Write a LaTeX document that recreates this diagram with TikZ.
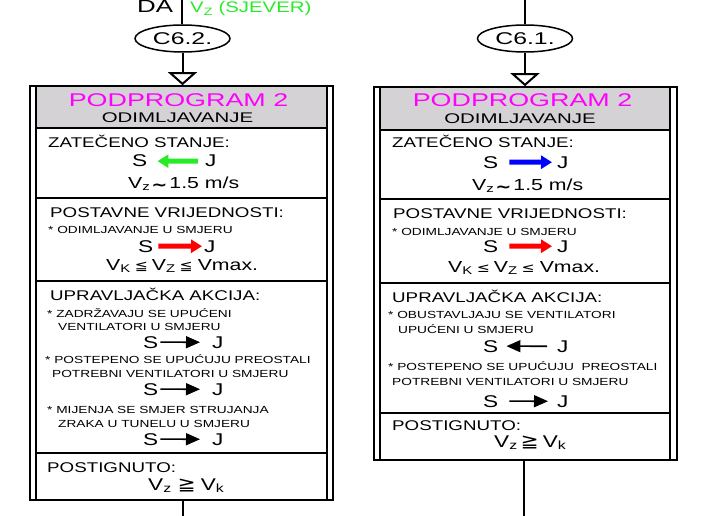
\documentclass[tikz,border=0pt]{standalone}
\usepackage{fontspec}
\setmainfont[FakeStretch=1.33]{Liberation Sans}
\newfontfamily\hdfont[FakeStretch=1.46]{Liberation Sans}
\newfontfamily\symf[FakeStretch=1.2]{DejaVu Sans}
\usetikzlibrary{arrows.meta,shapes.geometric}
\definecolor{mag}{RGB}{255,0,255}
\definecolor{grn}{RGB}{40,235,40}
\definecolor{rd}{RGB}{255,0,0}
\definecolor{bl}{RGB}{0,0,255}
\definecolor{hdg}{RGB}{212,210,212}
\newcommand\sub[1]{\textsubscript{#1}}
\newcommand\tld{\raisebox{-2pt}{\symf\bfseries\fontsize{16}{18}\selectfont ∼}}
\newcommand\rel[1]{{\symf\fontsize{13}{15}\selectfont #1}}
\begin{document}
\begin{tikzpicture}[x=1pt,y=-1pt,
 txt/.style={inner sep=0pt,anchor=base west},
 ttl/.style={txt,font=\fontsize{14.1}{16}\selectfont},
 sml/.style={txt,font=\fontsize{10.3}{12}\selectfont},
 big/.style={txt,font=\fontsize{17}{20}\selectfont},
 valtxt/.style={txt,font=\fontsize{16}{19}\selectfont},
 hdA/.style={inner sep=0pt,anchor=base,font=\hdfont\fontsize{18.4}{20}\selectfont,text=mag},
 hdB/.style={inner sep=0pt,anchor=base,font=\hdfont\fontsize{14}{16}\selectfont},
 boxframe/.style={draw,line width=1.6pt,inner sep=0pt,minimum width=303pt},
 boxline/.style={line width=1.6pt},
 secline/.style={line width=1.1pt},
 conn/.style={line width=2pt},
 openarr/.style={conn,-{Triangle[fill=white,length=13pt,width=29pt]}},
 fat/.style={line width=5pt,-{Triangle[length=11pt,width=13pt]}},
 blkarr/.style={line width=1.6pt,-{Triangle[length=14pt,width=12pt]}},
 oval/.style={ellipse,draw,line width=1.5pt,minimum width=95pt,minimum height=27pt,inner sep=0pt,font=\hdfont\fontsize{17}{20}\selectfont},
]
\useasboundingbox (0,0) rectangle (720,516);
% ---------- top ----------
\coordinate (T1) at (182,-2);
\coordinate (T2) at (525,-2);
\node[oval] (E1) at (182.5,38.5) {C6.2.};
\node[oval] (E2) at (525,38.5) {C6.1.};
\node[txt,font=\hdfont\fontsize{17.7}{20}\selectfont] (da) at (137,12.7) {DA};
\node[txt,font=\fontsize{15.3}{18}\selectfont,text=grn] (sj) at (190,13) {V\sub{Z} (SJEVER)};
% ---------- boxes ----------
\fill[hdg] (37,86) rectangle (326,128);
\fill[hdg] (381,87) rectangle (669,130);
\node[boxframe,minimum height=414pt] (LB) at (181.5,293) {};
\node[boxframe,minimum height=373pt] (RB) at (525.5,273.5) {};
\draw[boxline] ([xshift=7pt]LB.north west) -- ([xshift=7pt]LB.south west);
\draw[boxline] ([xshift=-7pt]LB.north east) -- ([xshift=-7pt]LB.south east);
\draw[boxline] ([xshift=7pt]RB.north west) -- ([xshift=7pt]RB.south west);
\draw[boxline] ([xshift=-8pt]RB.north east) -- ([xshift=-8pt]RB.south east);
\foreach \yy in {128,198,281,453} {\draw[secline] (37,\yy) -- (326,\yy);}
\foreach \yy in {130,199,283,413} {\draw[secline] (381,\yy) -- (669,\yy);}
% ---------- connectors ----------
\coordinate (B1) at (183,518);
\coordinate (B2) at (524,518);
\draw[conn] (T1) -- (T1 |- E1.north);
\draw[conn] (T2) -- (E2.north);
\draw[openarr] (E1.south) -- (E1.south |- LB.north);
\draw[openarr] (E2.south) -- (E2.south |- RB.north);
\draw[conn] (B1 |- LB.south) -- (B1);
\draw[conn] (B2 |- RB.south) -- (B2);
% ---------- left box text ----------
\node[hdA] (l0a) at (178.5,107) {PODPROGRAM 2};
\node[hdB] (l0b) at (177.5,123) {ODIMLJAVANJE};
\node[ttl] (l1t) at (48,147) {ZATEČENO STANJE:};
\node[big] (l1s) at (132,167) {S};
\node[big] (l1j) at (205,167) {J};
\draw[fat,grn] ([xshift=-7pt]l1j.west) -- ([xshift=10pt]l1s.east);
\node[valtxt] (l1v) at (128,188) {V\sub{z}\hspace{1pt}\tld\hspace{2pt}1.5 m/s};
\node[ttl] (l2t) at (50,217) {POSTAVNE VRIJEDNOSTI:};
\node[sml] (l2a) at (48,233) {* ODIMLJAVANJE U SMJERU};
\node[big] (l2s) at (138,252) {S};
\node[big] (l2j) at (204,252) {J};
\draw[fat,rd] ([xshift=5pt]l2s.east) -- ([xshift=-2pt]l2j.west);
\node[valtxt] (l2v) at (106,270) {V\sub{K}\hspace{4pt}\rel{≦}\hspace{4pt}V\sub{Z}\hspace{4pt}\rel{≦}\hspace{5pt}Vmax.};
\node[ttl] (l3t) at (50,300) {UPRAVLJAČKA AKCIJA:};
\node[sml] (l3a) at (47,317) {* ZADRŽAVAJU SE UPUĆENI};
\node[sml] (l3b) at (58,330) {VENTILATORI U SMJERU};
\node[big] (l3s1) at (143,348) {S};
\node[big] (l3j1) at (212,348) {J};
\draw[blkarr] ([xshift=2pt]l3s1.east) -- ([xshift=-12pt]l3j1.west);
\node[sml] (l3c) at (45,363) {* POSTEPENO SE UPUĆUJU PREOSTALI};
\node[sml] (l3d) at (52,377) {POTREBNI VENTILATORI U SMJERU};
\node[big] (l3s2) at (143,395) {S};
\node[big] (l3j2) at (212,395) {J};
\draw[blkarr] ([xshift=2pt]l3s2.east) -- ([xshift=-12pt]l3j2.west);
\node[sml] (l3e) at (47,413) {* MIJENJA SE SMJER STRUJANJA};
\node[sml] (l3f) at (58,427) {ZRAKA U TUNELU U SMJERU};
\node[big] (l3s3) at (143,445) {S};
\node[big] (l3j3) at (212,445) {J};
\draw[blkarr] ([xshift=2pt]l3s3.east) -- ([xshift=-12pt]l3j3.west);
\node[ttl] (l4t) at (47,472) {POSTIGNUTO:};
\node[big] (l4v) at (148,490) {V\sub{z}\hspace{6pt}{\symf\fontsize{18}{20}\selectfont ≧}\hspace{5pt}V\sub{k}};
% ---------- right box text ----------
\node[hdA] (r0a) at (522.5,107) {PODPROGRAM 2};
\node[hdB] (r0b) at (520,123.5) {ODIMLJAVANJE};
\node[ttl] (r1t) at (392,148) {ZATEČENO STANJE:};
\node[big] (r1s) at (483,168) {S};
\node[big] (r1j) at (557,168) {J};
\draw[fat,bl] ([xshift=11pt]r1s.east) -- ([xshift=-5pt]r1j.west);
\node[valtxt] (r1v) at (472,190) {V\sub{z}\hspace{1pt}\tld\hspace{2pt}1.5 m/s};
\node[ttl] (r2t) at (393,218) {POSTAVNE VRIJEDNOSTI:};
\node[sml] (r2a) at (392,235) {* ODIMLJAVANJE U SMJERU};
\node[big] (r2s) at (483,252) {S};
\node[big] (r2j) at (557,252) {J};
\draw[fat,rd] ([xshift=11pt]r2s.east) -- ([xshift=-5pt]r2j.west);
\node[valtxt] (r2v) at (448,272) {V\sub{K}\hspace{4pt}\rel{≤}\hspace{4pt}V\sub{Z}\hspace{4pt}\rel{≤}\hspace{5pt}Vmax.};
\node[ttl] (r3t) at (392,302) {UPRAVLJAČKA AKCIJA:};
\node[sml] (r3a) at (388,318) {* OBUSTAVLJAJU SE VENTILATORI};
\node[sml] (r3b) at (398,333) {UPUĆENI U SMJERU};
\node[big] (r3s1) at (483,352) {S};
\node[big] (r3j1) at (557,352) {J};
\draw[blkarr] ([xshift=-10pt]r3j1.west) -- ([xshift=8pt]r3s1.east);
\node[sml] (r3c) at (388,370) {* POSTEPENO SE UPUĆUJU\ \ PREOSTALI};
\node[sml] (r3d) at (392,385) {POTREBNI VENTILATORI U SMJERU};
\node[big] (r3s2) at (483,407) {S};
\node[big] (r3j2) at (557,407) {J};
\draw[blkarr] ([xshift=11pt]r3s2.east) -- ([xshift=-9pt]r3j2.west);
\node[ttl] (r4t) at (392,430) {POSTIGNUTO:};
\node[big] (r4v) at (494,447) {V\sub{z}\hspace{3pt}{\symf\fontsize{18}{20}\selectfont ≧}\hspace{4pt}V\sub{k}};
\end{tikzpicture}
\end{document}
